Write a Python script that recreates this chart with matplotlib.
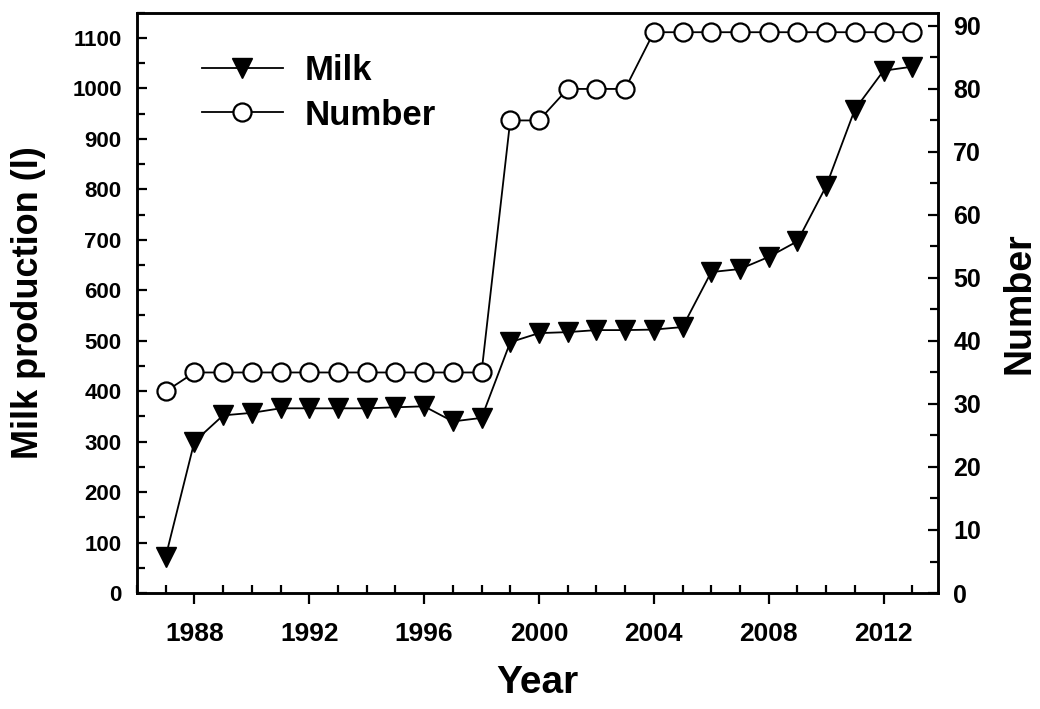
import matplotlib
matplotlib.use("Agg")
import matplotlib.pyplot as plt
from matplotlib.ticker import MultipleLocator
from matplotlib.lines import Line2D

# data
years = list(range(1987, 2014))
milk = [72, 300, 352, 357, 366, 366, 366, 366, 368, 370, 340, 347,
        497, 515, 517, 521, 521, 522, 527, 636, 642, 666, 697, 806,
        958, 1035, 1043]
number = [32, 35, 35, 35, 35, 35, 35, 35, 35, 35, 35, 35,
          75, 75, 80, 80, 80, 89, 89, 89, 89, 89, 89, 89, 89, 89, 89]

bold = ["Liberation Sans", "DejaVu Sans"]

fig = plt.figure(figsize=(10.4, 7.09), dpi=100)
ax = fig.add_axes([0.1317, 0.1636, 0.7703, 0.8185])
ax2 = ax.twinx()

ax.plot(years, milk, color="black", lw=1.3, marker="v", ms=14,
        mfc="black", mec="black", zorder=3)
ax2.plot(years, number, color="black", lw=1.3, marker="o", ms=13,
         mfc="white", mec="black", mew=1.6, zorder=3)

ax.set_xlim(1986, 2013.9)
ax.set_ylim(0, 1150)
ax2.set_ylim(0, 92.1)

for a in (ax, ax2):
    for s in a.spines.values():
        s.set_linewidth(1.8)

# left axis
ax.yaxis.set_major_locator(MultipleLocator(100))
ax.yaxis.set_minor_locator(MultipleLocator(50))
ax.tick_params(axis="y", which="major", direction="in", length=7.5, width=1.6, pad=11)
ax.tick_params(axis="y", which="minor", direction="in", length=5.5, width=1.6)
for t in ax.get_yticklabels():
    t.set_fontfamily(bold)
    t.set_fontweight("bold")
    t.set_fontsize(16)

# bottom axis: majors point out, yearly minors point in
ax.xaxis.set_major_locator(MultipleLocator(4))
ax.xaxis.set_minor_locator(MultipleLocator(1))
ax.tick_params(axis="x", which="major", direction="out", length=8, width=1.6, pad=13)
ax.tick_params(axis="x", which="minor", direction="in", length=6, width=1.6)
for t in ax.get_xticklabels():
    t.set_fontfamily(bold)
    t.set_fontweight("bold")
    t.set_fontsize(19)

# right axis
ax2.yaxis.set_major_locator(MultipleLocator(10))
ax2.yaxis.set_minor_locator(MultipleLocator(5))
ax2.tick_params(axis="y", which="major", direction="in", length=7.5, width=1.6, pad=11)
ax2.tick_params(axis="y", which="minor", direction="in", length=5.5, width=1.6)
for t in ax2.get_yticklabels():
    t.set_fontfamily(bold)
    t.set_fontweight("bold")
    t.set_fontsize(18)

ax.set_ylabel("Milk production (l)", fontfamily=bold, fontweight="bold",
              fontsize=26, va="center")
ax.yaxis.set_label_coords(-0.135, 0.5)
ax2.set_ylabel("Number", fontfamily=bold, fontweight="bold",
               fontsize=27, va="center")
ax2.yaxis.set_label_coords(1.102, 0.5)
ax.set_xlabel("Year", fontfamily=bold, fontweight="bold",
              fontsize=28, va="center")
ax.xaxis.set_label_coords(0.5, -0.155)

handles = [
    Line2D([], [], color="black", lw=1.3, marker="v", ms=14, mfc="black", mec="black"),
    Line2D([], [], color="black", lw=1.3, marker="o", ms=13, mfc="white", mec="black", mew=1.6),
]
ax2.legend(handles, ["Milk", "Number"], loc="upper left",
           bbox_to_anchor=(0.081, 0.928), frameon=False, borderpad=0,
           borderaxespad=0, handlelength=2.33, handletextpad=0.63,
           labelspacing=0.32, prop={"family": bold, "weight": "bold", "size": 25})

fig.savefig("out.png", dpi=100)
